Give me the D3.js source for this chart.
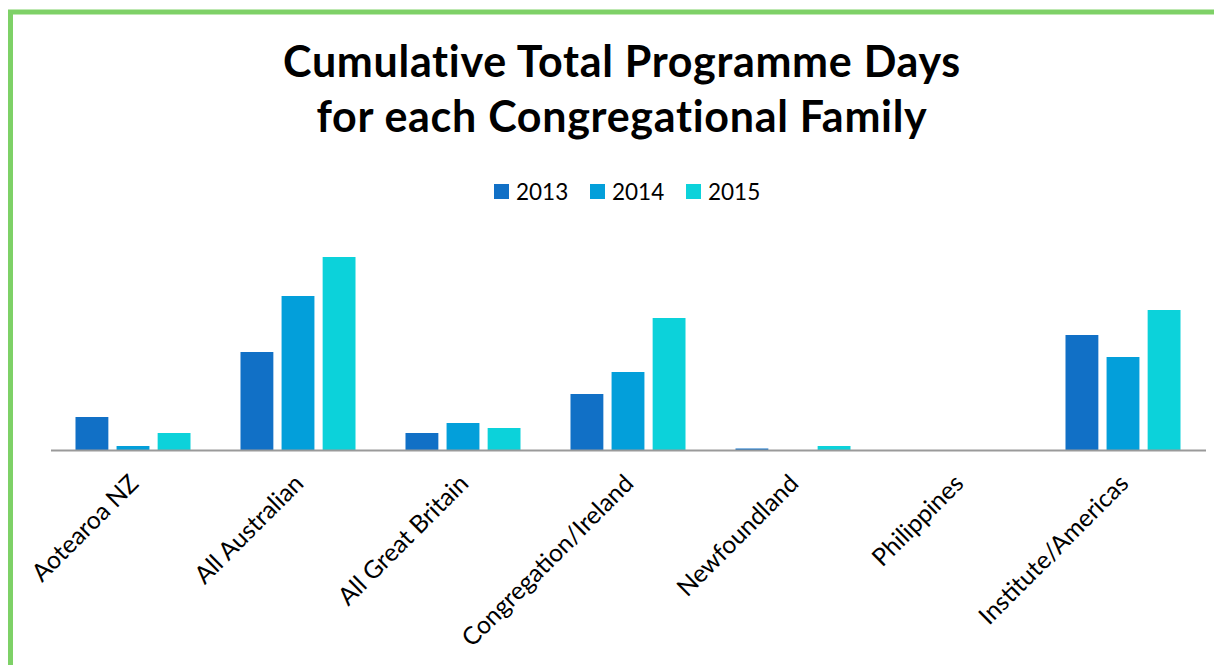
<!DOCTYPE html>
<html>
<head>
<meta charset="utf-8">
<script src="https://cdn.jsdelivr.net/npm/d3@7"></script>
<style>
  html, body { margin: 0; padding: 0; background: #fff; }
  svg { display: block; }
  text { font-family: Lato, "Open Sans", sans-serif; }
</style>
</head>
<body>
<svg id="chart" width="1214" height="665"></svg>
<script>
const categories = ["Aotearoa NZ", "All Australian", "All Great Britain", "Congregation/Ireland", "Newfoundland", "Philippines", "Institute/Americas"];
const seriesNames = ["2013", "2014", "2015"];
const values2013 = [33, 98, 17, 56, 1.5, 0, 115];
const values2014 = [4, 154, 27, 78, 0, 0, 93];
const values2015 = [17, 193, 22, 132, 4, 0, 140];
const colors = ["#1170C6", "#039FDA", "#0CD2DA"];
const titleLines = ["Cumulative Total Programme Days", "for each Congregational Family"];

const series = [values2013, values2014, values2015];
const svg = d3.select("#chart");
const W = 1214, H = 665;

// Green frame
svg.append("rect").attr("x", 10.5).attr("y", 12).attr("width", W + 20).attr("height", H + 20)
  .attr("fill", "none").attr("stroke", "#7ED167").attr("stroke-width", 5);

// Title
svg.append("g").selectAll("text").data(titleLines).join("text")
  .attr("x", 622).attr("y", (d, i) => 77 + i * 55)
  .attr("text-anchor", "middle").attr("font-size", 43).attr("font-weight", 700)
  .attr("letter-spacing", 0.7)
  .attr("fill", "#000").text(d => d);

// Scales
const baseline = 450;
const x0 = d3.scaleBand().domain(categories).range([50.5, 1205.5]).paddingInner(0.303).paddingOuter(0.1515);
const x1 = d3.scaleBand().domain(seriesNames).range([0, x0.bandwidth()]).paddingInner(0.2);
const y = d3.scaleLinear().domain([0, 200]).range([baseline, baseline - 200]);

// Bars
const groups = svg.append("g").selectAll("g").data(categories).join("g")
  .attr("transform", d => `translate(${x0(d)},0)`);
groups.selectAll("rect").data((d, i) => seriesNames.map((s, j) => ({ s, v: series[j][i], j })))
  .join("rect")
  .attr("x", d => x1(d.s)).attr("width", x1.bandwidth())
  .attr("y", d => y(d.v)).attr("height", d => baseline - y(d.v))
  .attr("fill", d => colors[d.j]);

// X axis
const xAxis = d3.axisBottom(x0).tickSize(0).tickPadding(0);
const ax = svg.append("g").attr("transform", `translate(0,${baseline})`).call(xAxis);
ax.select(".domain").attr("stroke", "#9A9A9A").attr("stroke-width", 2);
ax.selectAll(".tick text")
  .attr("font-family", "Lato, 'Open Sans', sans-serif")
  .attr("font-size", 24.6).attr("fill", "#000")
  .attr("text-anchor", "end")
  .attr("dy", 0).attr("y", 0)
  .attr("transform", "translate(7,35) rotate(-45)");

// Legend
const legendX = [494, 590, 686];
const lg = svg.append("g").selectAll("g").data(seriesNames).join("g")
  .attr("transform", (d, i) => `translate(${legendX[i]},184)`);
lg.append("rect").attr("width", 15).attr("height", 15).attr("fill", (d, i) => colors[i]);
lg.append("text").attr("x", 22).attr("y", 16).attr("font-size", 22.5).attr("fill", "#000").text(d => d);
</script>
</body>
</html>
